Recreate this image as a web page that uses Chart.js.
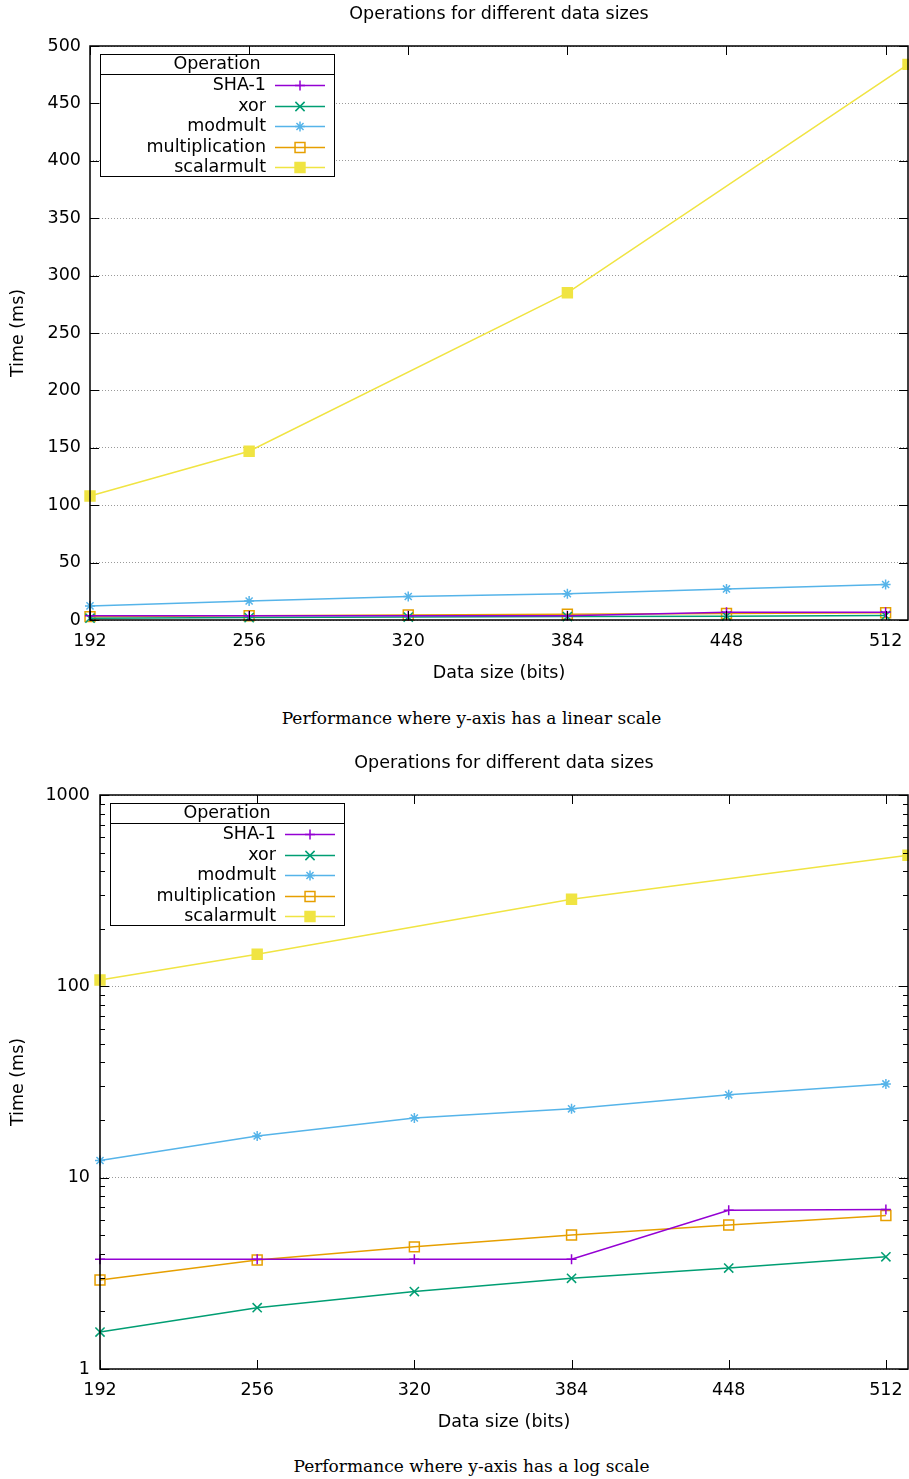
<!DOCTYPE html>
<html><head><meta charset="utf-8">
<script src="https://cdn.jsdelivr.net/npm/chart.js@4/dist/chart.umd.min.js"></script>
<style>
html,body{margin:0;padding:0;background:#fff;overflow:hidden;width:909px;height:1479px;}
.wrap{position:absolute;left:0;width:909px;}
.cap{position:absolute;left:0;width:943px;text-align:center;font-family:"DejaVu Serif",serif;font-size:17px;color:#000;line-height:20px;white-space:nowrap;}
canvas{display:block;}
</style></head><body>
<div class="wrap" style="top:0;height:700px"><canvas id="c1" width="909" height="700"></canvas></div>
<div class="cap" style="top:708px">Performance where y-axis has a linear scale</div>
<div class="wrap" style="top:741px;height:708px"><canvas id="c2" width="909" height="708"></canvas></div>
<div class="cap" style="top:1456px">Performance where y-axis has a log scale</div>
<script>
// ---- data ----
const chartTitle = 'Operations for different data sizes';
const xAxisTitle = 'Data size (bits)';
const yAxisTitle = 'Time (ms)';
const legendTitle = 'Operation';
const xTickValues = [192, 256, 320, 384, 448, 512];
const dataSizes = [192, 256, 320, 384, 448, 512];
const curveSizes = [192, 256, 384, 521];
const sha1 = [3.75, 3.75, 3.75, 3.75, 6.76, 6.81];
const xorTimes = [1.56, 2.09, 2.54, 2.98, 3.37, 3.86];
const modmult = [12.3, 16.5, 20.5, 22.9, 27.1, 30.9];
const multiplication = [2.92, 3.71, 4.35, 5.02, 5.66, 6.34];
const scalarmult = [108, 147, 285, 484];
const linearYTicks = [0, 50, 100, 150, 200, 250, 300, 350, 400, 450, 500];
const logYTicks = [1, 10, 100, 1000];
const seriesNames = ['SHA-1', 'xor', 'modmult', 'multiplication', 'scalarmult'];

// ---- styles ----
const FONT = {family: '"DejaVu Sans", sans-serif', size: 17.5};
const colors = ['#9400d3', '#009e73', '#56b4e9', '#e69f00', '#f0e442'];
const markers = [
  {style: 'cross', r: 5, fill: false},
  {style: 'crossRot', r: 6.5, fill: false},
  {style: 'star', r: 5, fill: false},
  {style: 'rect', r: 7, fill: false},
  {style: 'rect', r: 7, fill: true}
];

function pts(xs, ys) { return xs.map((x, i) => ({x: x, y: ys[i]})); }

function makeDatasets() {
  const series = [
    pts(dataSizes, sha1), pts(dataSizes, xorTimes), pts(dataSizes, modmult),
    pts(dataSizes, multiplication), pts(curveSizes, scalarmult)
  ];
  return series.map((d, i) => ({
    label: seriesNames[i],
    data: d,
    borderColor: colors[i],
    backgroundColor: markers[i].fill ? colors[i] : 'rgba(0,0,0,0)',
    pointBorderColor: colors[i],
    pointBackgroundColor: markers[i].fill ? colors[i] : 'rgba(0,0,0,0)',
    pointStyle: markers[i].style,
    pointRadius: markers[i].r,
    pointHoverRadius: markers[i].r,
    pointBorderWidth: 1.5,
    borderWidth: 1.5,
    tension: 0,
    clip: false,
    fill: false,
    _marker: markers[i]
  }));
}

function drawMarker(ctx, m, color, x, y) {
  ctx.save();
  ctx.strokeStyle = color; ctx.fillStyle = color; ctx.lineWidth = 1.5;
  ctx.beginPath();
  const r = m.r, o = r * Math.SQRT1_2;
  if (m.style === 'cross' || m.style === 'star') {
    ctx.moveTo(x - r, y); ctx.lineTo(x + r, y); ctx.moveTo(x, y - r); ctx.lineTo(x, y + r);
  }
  if (m.style === 'crossRot' || m.style === 'star') {
    ctx.moveTo(x - o, y - o); ctx.lineTo(x + o, y + o); ctx.moveTo(x - o, y + o); ctx.lineTo(x + o, y - o);
  }
  if (m.style === 'rect') {
    ctx.rect(x - o, y - o, 2 * o, 2 * o);
    if (m.fill) ctx.fill();
  }
  ctx.stroke();
  ctx.restore();
}

const framePlugin = {
  id: 'frame',
  afterDatasetsDraw(chart) {
    const {ctx, chartArea: {left, right, top, bottom}, scales: {x, y}} = chart;
    ctx.save();
    ctx.strokeStyle = '#000';
    ctx.lineWidth = 1;
    ctx.beginPath();
    x.ticks.forEach(t => {
      const px = Math.round(x.getPixelForValue(t.value)) + 0.5;
      ctx.moveTo(px, bottom); ctx.lineTo(px, bottom - 9);
      ctx.moveTo(px, top); ctx.lineTo(px, top + 9);
    });
    y.ticks.forEach(t => {
      const py = Math.round(y.getPixelForValue(t.value)) + 0.5;
      ctx.moveTo(left, py); ctx.lineTo(left + 9, py);
      ctx.moveTo(right, py); ctx.lineTo(right - 9, py);
    });
    if (y.type === 'logarithmic') {
      for (let d = 1; d < 1000; d *= 10) {
        for (let k = 2; k <= 9; k++) {
          const py = Math.round(y.getPixelForValue(k * d)) + 0.5;
          ctx.moveTo(left, py); ctx.lineTo(left + 5, py);
          ctx.moveTo(right, py); ctx.lineTo(right - 5, py);
        }
      }
    }
    ctx.stroke();
    ctx.lineWidth = 1.5;
    ctx.strokeRect(left, top, right - left, bottom - top);
    ctx.restore();
  }
};

const legendPlugin = {
  id: 'boxLegend',
  afterDraw(chart) {
    const {ctx, chartArea} = chart;
    const bx = Math.round(chartArea.left + 10), by = Math.round(chartArea.top + 8), bw = 234, bh = 122;
    ctx.save();
    ctx.fillStyle = '#fff';
    ctx.fillRect(bx, by, bw, bh);
    ctx.strokeStyle = '#000'; ctx.lineWidth = 1;
    ctx.strokeRect(bx + 0.5, by + 0.5, bw, bh);
    ctx.beginPath(); ctx.moveTo(bx, by + 20.5); ctx.lineTo(bx + bw, by + 20.5); ctx.stroke();
    ctx.font = '17.5px "DejaVu Sans", sans-serif';
    ctx.fillStyle = '#000';
    ctx.textBaseline = 'middle';
    ctx.textAlign = 'center';
    ctx.fillText(legendTitle, bx + bw / 2, by + 10.5);
    chart.data.datasets.forEach((ds, i) => {
      const yy = Math.round(by + 31 + i * 20.5) + 0.5;
      ctx.textAlign = 'right'; ctx.fillStyle = '#000';
      ctx.fillText(ds.label, bx + 166, yy);
      ctx.strokeStyle = ds.borderColor; ctx.lineWidth = 1.5;
      ctx.beginPath(); ctx.moveTo(bx + 175, yy); ctx.lineTo(bx + 225, yy); ctx.stroke();
      drawMarker(ctx, ds._marker, ds.borderColor, bx + 200, yy);
    });
    ctx.restore();
  }
};

function makeChart(id, isLog, titleTop, yWidth) {
  const yScale = isLog ? {
    type: 'logarithmic', min: 1, max: 1000,
    afterBuildTicks(s) { s.ticks = logYTicks.map(v => ({value: v, major: true})); },
    ticks: {font: FONT, color: '#000', padding: 10, callback: v => String(v)}
  } : {
    type: 'linear', min: 0, max: 500,
    afterBuildTicks(s) { s.ticks = linearYTicks.map(v => ({value: v})); },
    ticks: {font: FONT, color: '#000', padding: 9, callback: v => String(v)}
  };
  Object.assign(yScale, {
    grid: {color: '#9a9a9a', lineWidth: 1, drawTicks: false},
    border: {display: false, dash: [1, 2]},
    title: {display: true, text: yAxisTitle, font: FONT, color: '#000', padding: {top: 8, bottom: 0}},
    afterFit(s) { s.width = yWidth; s.paddingTop = 0; s.paddingBottom = 0; }
  });
  return new Chart(document.getElementById(id), {
    type: 'line',
    data: {datasets: makeDatasets()},
    options: {
      responsive: false,
      animation: false,
      events: [],
      layout: {autoPadding: false, padding: {left: 0, right: 1, top: 0, bottom: 0}},
      plugins: {
        legend: {display: false},
        tooltip: {enabled: false},
        title: {display: true, text: chartTitle, font: {...FONT, weight: 'normal'}, color: '#000',
                fullSize: false, padding: {top: titleTop, bottom: 21}}
      },
      scales: {
        x: {
          type: 'linear', min: 192, max: 521,
          afterBuildTicks(s) { s.ticks = xTickValues.map(v => ({value: v})); },
          ticks: {font: FONT, color: '#000', padding: 11, maxRotation: 0, callback: v => String(v)},
          grid: {display: false, drawTicks: false},
          border: {display: false},
          title: {display: true, text: xAxisTitle, font: FONT, color: '#000', padding: {top: 0, bottom: 16}},
          afterFit(s) { s.height = 80; s.paddingLeft = 0; s.paddingRight = 0; }
        },
        y: yScale
      }
    },
    plugins: [framePlugin, legendPlugin]
  });
}

makeChart('c1', false, 4, 90);
makeChart('c2', true, 12, 100);
</script>
</body></html>
